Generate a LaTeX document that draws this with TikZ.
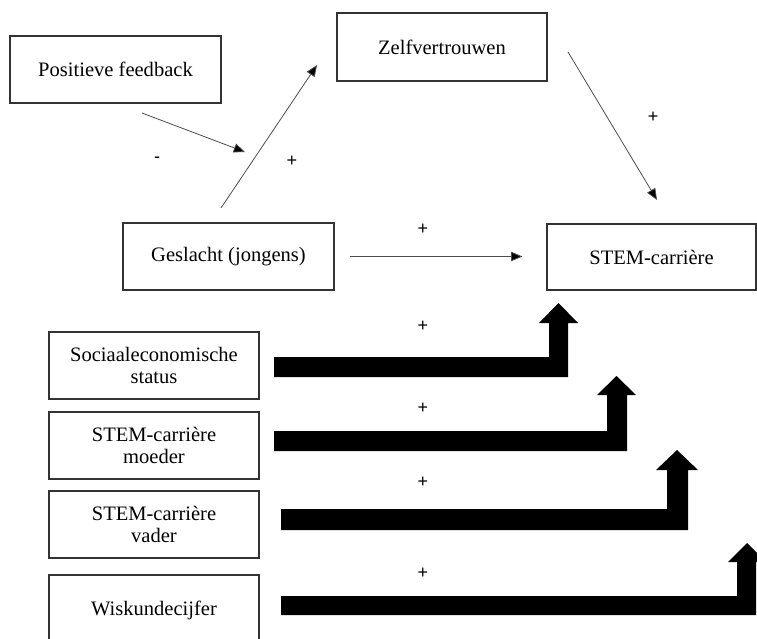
\documentclass[tikz,border=0pt]{standalone}
\usepackage{fontspec}
\setmainfont{Liberation Serif}
\newfontfamily\signfont{Liberation Sans}
\usetikzlibrary{arrows.meta}
\begin{document}
\begin{tikzpicture}[x=0.75pt,y=-0.75pt,
  box/.style 2 args={draw=black!80, line width=0.8pt, fill=white, inner sep=0pt,
    minimum width=#1*0.75pt, minimum height=#2*0.75pt, align=center,
    font=\fontsize{15.4}{17}\selectfont},
  thin/.style={draw=black!70, line width=0.6pt, -{Triangle[length=8.5pt,width=7pt,fill=black]}},
  sign/.style={font=\signfont\fontsize{13.5}{15}\selectfont, inner sep=0pt},
  thick/.style={fill=black}]
\useasboundingbox (0,0) rectangle (757,639);
\clip (0,0) rectangle (757,639);

% boxes
\node[box={211}{67}] (pf) at (115.5,69.5) {Positieve feedback};
\node[box={210}{68}] (zelf) at (442,47) {Zelfvertrouwen};
\node[box={211}{67}] (gesl) at (228.5,256.5) {Geslacht (jongens)};
\node[box={209}{66}] (stem) at (651.5,257) {STEM-carrière};
\node[box={210}{67}] (ses) at (154,365.5) {Sociaaleconomische\\status};
\node[box={210}{67}] (moe) at (154,445.5) {STEM-carrière\\moeder};
\node[box={210}{67}] (vad) at (154,524.5) {STEM-carrière\\vader};
\node[box={210}{70}] (wis) at (154,610) {Wiskundecijfer};

% free ends of the thin arrows
\coordinate (g1) at (221,208);
\coordinate (z1) at (317,65);
\coordinate (f1) at (142,113);
\coordinate (f2) at (245,152);
\coordinate (z2) at (568,52);
\coordinate (s1) at (657,200);

\draw[thin] (g1) -- (z1);
\draw[thin] (f1) -- (f2);
\draw[thin] (z2) -- (s1);
\draw[thin, shorten <=15*0.75pt, shorten >=24*0.75pt] (gesl.east) -- (gesl.east -| stem.west);

% signs
\node[sign] (m1) at (157,160) {-};
\node[sign] (p1) at (292,161) {+};
\node[sign] (p2) at (653,117) {+};
\node[sign] (p3) at (423,229) {+};
\node[sign] (p4) at (423,326) {+};
\node[sign] (p5) at (423,408) {+};
\node[sign] (p6) at (423,482) {+};
\node[sign] (p7) at (423,573) {+};

% thick bent arrows
\fill[thick] (274,357) -- (549,357) -- (549,323) -- (539,323) -- (558.5,303) -- (578,323) -- (568,323) -- (568,377) -- (274,377) -- cycle;
\fill[thick] (274,431) -- (607,431) -- (607,395) -- (597,395) -- (616.5,376) -- (636,395) -- (627,395) -- (627,451) -- (274,451) -- cycle;
\fill[thick] (281,509) -- (667,509) -- (667,470) -- (656,470) -- (677,450) -- (698,470) -- (688,470) -- (688,530) -- (281,530) -- cycle;
\fill[thick] (281,596) -- (737,596) -- (737,562) -- (728,562) -- (747,543) -- (766,562) -- (756,562) -- (756,615) -- (281,615) -- cycle;
\end{tikzpicture}
\end{document}
